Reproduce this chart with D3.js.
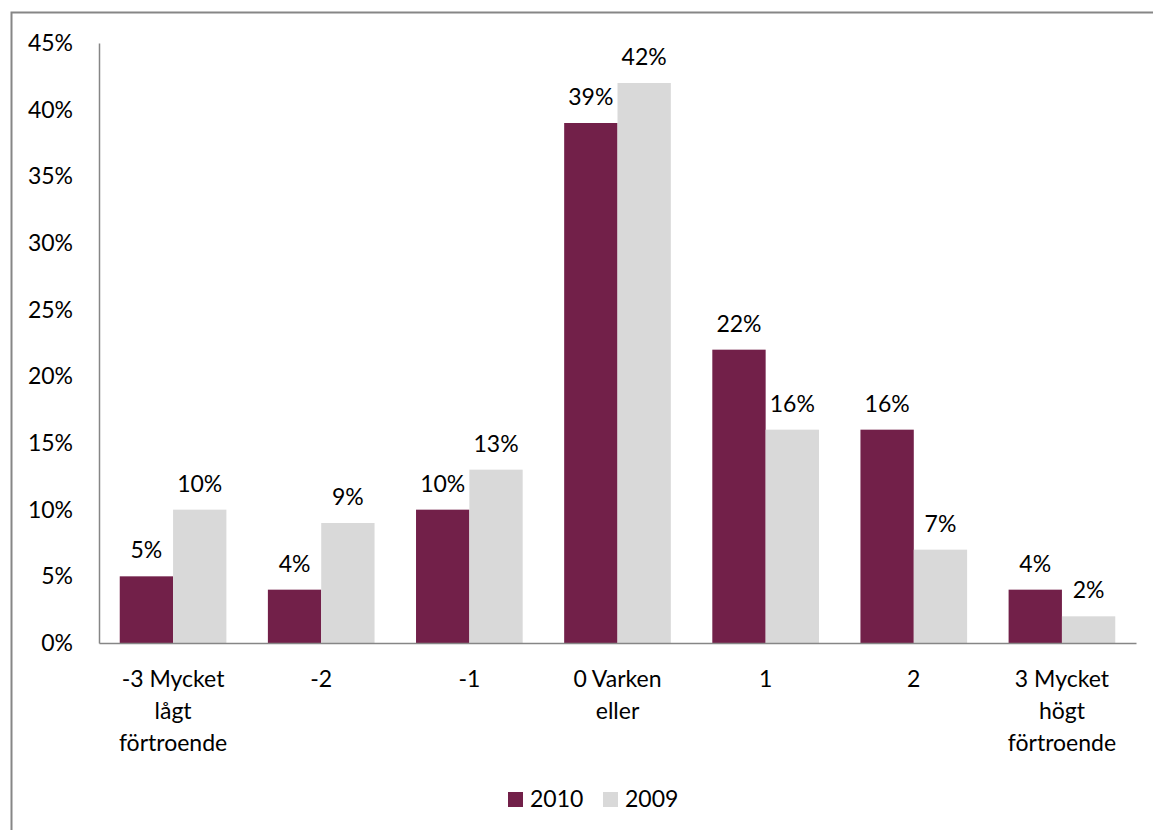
<!DOCTYPE html>
<html><head><meta charset="utf-8">
<script src="https://cdn.jsdelivr.net/npm/d3@7"></script>
<style>body{margin:0;background:#fff}svg{display:block}text{font-family:Lato,"Open Sans",sans-serif;fill:#000}</style>
</head><body><svg id="c" width="1153" height="830"></svg>
<script>
const categories = [["-3 Mycket","lågt","förtroende"],["-2"],["-1"],["0 Varken","eller"],["1"],["2"],["3 Mycket","högt","förtroende"]];
const series = ["2010","2009"];
const values2010 = [5,4,10,39,22,16,4];
const values2009 = [10,9,13,42,16,7,2];
const yTicks = [0,5,10,15,20,25,30,35,40,45];
const colors = ["#722049","#d9d9d9"];

(function(){
const FS = 23;
const svg = d3.select("#c");
const mLeft = 99, mRight = 1136, mTop = 43, mBottom = 643;
// frame
svg.append("path").attr("d","M11.5,830 V12.5 H1153").attr("fill","none").attr("stroke","#868686").attr("stroke-width",2);

const idx = categories.map((c,i)=>i);
const x0 = d3.scaleBand().domain(idx).range([mLeft,mRight]).paddingInner(0.28).paddingOuter(0.14);
const x1 = d3.scaleBand().domain(series).range([0,x0.bandwidth()]);
const y = d3.scaleLinear().domain([0,45]).range([mBottom,mTop]);

const data = idx.map(i=>({i, vals:[values2010[i],values2009[i]]}));
const g = svg.append("g");
data.forEach(d=>{
  series.forEach((s,k)=>{
    const v = d.vals[k];
    g.append("rect").attr("x",x0(d.i)+x1(s)).attr("y",y(v)).attr("width",x1.bandwidth()).attr("height",y(0)-y(v)).attr("fill",colors[k]);
    g.append("text").attr("x",x0(d.i)+x1(s)+x1.bandwidth()/2).attr("y",y(v)-18).attr("text-anchor","middle").attr("font-size",FS).text(v+"%");
  });
});

// y axis
const ya = svg.append("g").attr("transform",`translate(${mLeft},0)`).call(d3.axisLeft(y).tickValues(yTicks).tickSize(0).tickPadding(26).tickFormat(d=>d+"%"));
ya.select(".domain").attr("stroke","#868686").attr("stroke-width",1.5);
ya.selectAll("text").attr("font-size",FS).attr("font-family","Lato");
// x axis
const xa = svg.append("g").attr("transform",`translate(0,${mBottom})`).call(d3.axisBottom(x0).tickSize(0).tickFormat(""));
xa.select(".domain").attr("stroke","#868686").attr("stroke-width",1.5);
xa.selectAll(".tick").each(function(i){
  const t = d3.select(this).append("text").attr("text-anchor","middle").attr("font-size",FS).attr("fill","#000");
  categories[i].forEach((line,j)=>t.append("tspan").attr("x",0).attr("y",44+j*32).text(line));
});

// legend
const leg = svg.append("g");
const lx = [508,603];
series.forEach((s,k)=>{
  leg.append("rect").attr("x",lx[k]).attr("y",792).attr("width",15).attr("height",15).attr("fill",colors[k]);
  leg.append("text").attr("x",lx[k]+22).attr("y",807).attr("font-size",FS).text(s);
});
})();
</script></body></html>
